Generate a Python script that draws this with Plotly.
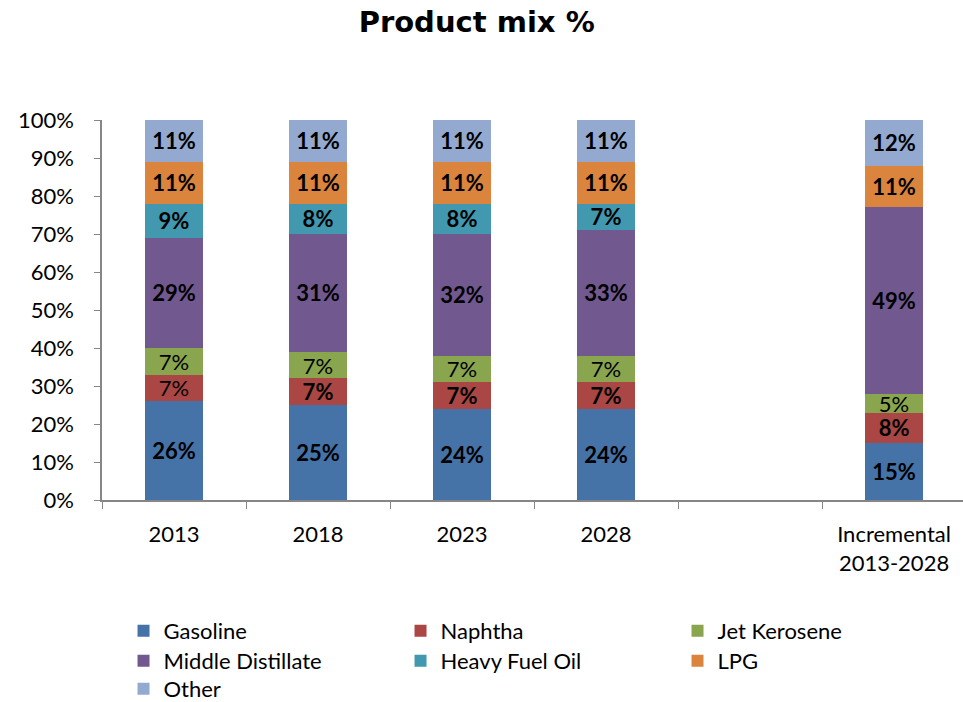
import plotly.graph_objects as go

categories = ["2013", "2018", "2023", "2028", " ", "Incremental<br>2013-2028"]
gasoline = [26, 25, 24, 24, None, 15]
naphtha = [7, 7, 7, 7, None, 8]
jet_kerosene = [7, 7, 7, 7, None, 5]
middle_distillate = [29, 31, 32, 33, None, 49]
heavy_fuel_oil = [9, 8, 8, 7, None, None]
lpg = [11, 11, 11, 11, None, 11]
other = [11, 11, 11, 11, None, 12]
y_ticks = [0, 10, 20, 30, 40, 50, 60, 70, 80, 90, 100]
y_tick_labels = [f"{v}%" for v in y_ticks]

series = [
    ("Gasoline", gasoline, "#4572A7", "legend", "bold"),
    ("Naphtha", naphtha, "#AA4643", "legend", ["normal", "bold", "bold", "bold", "bold", "bold"]),
    ("Jet Kerosene", jet_kerosene, "#89A54E", "legend", "normal"),
    ("Middle Distillate", middle_distillate, "#71588F", "legend2", "bold"),
    ("Heavy Fuel Oil", heavy_fuel_oil, "#4198AF", "legend2", "bold"),
    ("LPG", lpg, "#DB843D", "legend2", "bold"),
    ("Other", other, "#93A9CF", "legend3", "bold"),
]

FONT = "Lato"
fig = go.Figure()
for name, vals, color, leg, weight in series:
    fig.add_trace(go.Bar(
        name=name, x=categories, y=vals,
        marker=dict(color=color, line=dict(width=0)),
        texttemplate="%{y:.0f}%", textposition="inside", insidetextanchor="middle",
        textangle=0, constraintext="none",
        textfont=dict(family=FONT, size=22, color="black", weight=weight),
        legend=leg, hoverinfo="skip",
    ))

leg_common = dict(orientation="h", xanchor="left", yanchor="middle", yref="container",
                  traceorder="normal",
                  font=dict(family=FONT, size=22, color="black"),
                  entrywidth=232, entrywidthmode="pixels",
                  bgcolor="rgba(0,0,0,0)", itemclick=False)

fig.update_layout(
    width=963, height=702,
    barmode="stack", bargap=0.6,
    plot_bgcolor="white", paper_bgcolor="white",
    margin=dict(l=102, r=0, t=120, b=202),
    title=dict(text="<b>Product mix %</b>", x=0.495, xanchor="center", y=1 - 22 / 702, yanchor="middle",
               font=dict(family="DejaVu Sans", size=29, color="black")),
    font=dict(family=FONT, color="black"),
    legend=dict(x=0.025, y=1 - 631 / 702, **leg_common),
    legend2=dict(x=0.025, y=1 - 661 / 702, **leg_common),
    legend3=dict(x=0.025, y=1 - 689 / 702, **leg_common),
    xaxis=dict(type="category", categoryorder="array", categoryarray=categories,
               range=[-0.5, 5.479], tickson="boundaries", ticks="outside", ticklen=7,
               tickcolor="#868686", showline=True, linecolor="#868686", linewidth=1.5,
               showgrid=False, tickfont=dict(family=FONT, size=22, color="black"),
               ticklabelstandoff=14, automargin=False),
    yaxis=dict(range=[0, 100], tickvals=y_ticks, ticktext=y_tick_labels, ticks="outside", ticklen=6,
               tickcolor="#868686", showline=True, linecolor="#868686", linewidth=1.5,
               showgrid=False, zeroline=False, tickfont=dict(family=FONT, size=22, color="black"),
               ticklabelstandoff=16, automargin=False),
    showlegend=True,
)

fig.write_html("out.html", config={"displayModeBar": False},
               post_script="document.body.style.margin='0';document.body.style.overflow='hidden';")
